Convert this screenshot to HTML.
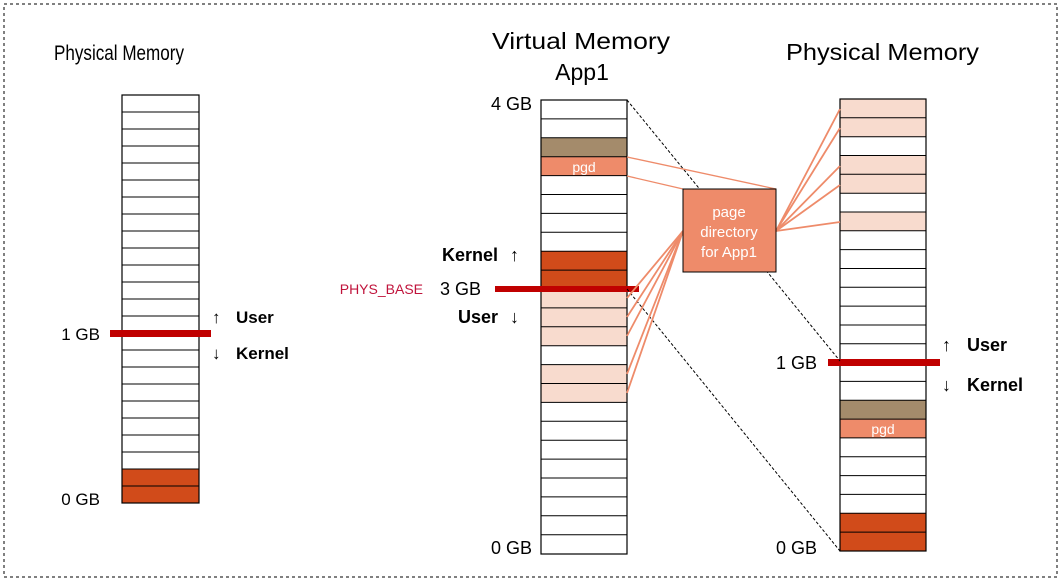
<!DOCTYPE html>
<html><head><meta charset="utf-8"><style>
html,body{margin:0;padding:0;background:#fff;}
svg{display:block;font-family:"Liberation Sans",sans-serif;}
</style></head><body>
<svg width="1063" height="581" viewBox="0 0 1063 581" xmlns="http://www.w3.org/2000/svg">
<rect x="4" y="4" width="1053" height="573" fill="none" stroke="#000" stroke-width="1" stroke-dasharray="3,3"/>

<text x="54" y="60" font-size="21" textLength="130" lengthAdjust="spacingAndGlyphs">Physical Memory</text>
<text x="492" y="49" font-size="23" textLength="178" lengthAdjust="spacingAndGlyphs">Virtual Memory</text>
<text x="582" y="80" font-size="23" text-anchor="middle">App1</text>
<text x="786" y="60" font-size="23" textLength="193" lengthAdjust="spacingAndGlyphs">Physical Memory</text>

<!-- left column -->
<rect x="122" y="95" width="77" height="408" fill="#fff"/>
<rect x="122" y="469" width="77" height="34" fill="#d14b1a"/>
<path stroke="#000" stroke-width="1" fill="none" d="M122 112H199M122 129H199M122 146H199M122 163H199M122 180H199M122 197H199M122 214H199M122 231H199M122 248H199M122 265H199M122 282H199M122 299H199M122 316H199M122 333H199M122 350H199M122 367H199M122 384H199M122 401H199M122 418H199M122 435H199M122 452H199M122 469H199M122 486H199"/>
<rect x="122" y="95" width="77" height="408" fill="none" stroke="#000" stroke-width="1.2"/>
<rect x="110" y="330" width="101" height="7" fill="#c00000"/>
<text x="100" y="340" font-size="17" text-anchor="end">1 GB</text>
<text x="100" y="505" font-size="17" text-anchor="end">0 GB</text>
<text x="212" y="323" font-size="17">↑</text>
<text x="236" y="323" font-size="17" font-weight="bold">User</text>
<text x="212" y="359" font-size="17">↓</text>
<text x="236" y="359" font-size="17" font-weight="bold">Kernel</text>

<!-- middle column -->
<rect x="541" y="100" width="86" height="454" fill="#fff"/>
<rect x="541" y="137.8" width="86" height="18.9" fill="#a48b6b"/>
<rect x="541" y="156.7" width="86" height="18.9" fill="#ee8b6a"/>
<rect x="541" y="251.2" width="86" height="37.8" fill="#d14b1a"/>
<rect x="541" y="289" width="86" height="56.7" fill="#f8dbce"/>
<rect x="541" y="364.6" width="86" height="37.8" fill="#f8dbce"/>
<path stroke="#000" stroke-width="1" fill="none" d="M541 118.9H627M541 137.8H627M541 156.7H627M541 175.6H627M541 194.5H627M541 213.4H627M541 232.3H627M541 251.2H627M541 270.1H627M541 289H627M541 307.9H627M541 326.8H627M541 345.7H627M541 364.6H627M541 383.5H627M541 402.4H627M541 421.3H627M541 440.2H627M541 459.1H627M541 478H627M541 496.9H627M541 515.8H627M541 534.7H627"/>
<rect x="541" y="100" width="86" height="454" fill="none" stroke="#000" stroke-width="1.2"/>
<text x="584" y="172" font-size="14" fill="#fff" text-anchor="middle">pgd</text>
<rect x="495" y="286" width="144" height="6" fill="#c00000"/>
<text x="532" y="110" font-size="18" text-anchor="end">4 GB</text>
<text x="532" y="554" font-size="18" text-anchor="end">0 GB</text>
<text x="481" y="295" font-size="18" text-anchor="end">3 GB</text>
<text x="423" y="294" font-size="14" fill="#c0143c" text-anchor="end">PHYS_BASE</text>
<text x="498" y="261" font-size="18" font-weight="bold" text-anchor="end">Kernel</text>
<text x="510" y="261" font-size="18">↑</text>
<text x="498" y="323" font-size="18" font-weight="bold" text-anchor="end">User</text>
<text x="510" y="323" font-size="18">↓</text>

<!-- right column -->
<rect x="840" y="99" width="86" height="452" fill="#fff"/>
<rect x="840" y="99" width="86" height="37.7" fill="#f8dbce"/>
<rect x="840" y="155.5" width="86" height="37.7" fill="#f8dbce"/>
<rect x="840" y="212" width="86" height="18.8" fill="#f8dbce"/>
<rect x="840" y="400.3" width="86" height="18.8" fill="#a48b6b"/>
<rect x="840" y="419.1" width="86" height="18.8" fill="#ee8b6a"/>
<rect x="840" y="513.3" width="86" height="37.7" fill="#d14b1a"/>
<path stroke="#000" stroke-width="1" fill="none" d="M840 117.8H926M840 136.7H926M840 155.5H926M840 174.3H926M840 193.2H926M840 212H926M840 230.8H926M840 249.6H926M840 268.5H926M840 287.3H926M840 306.1H926M840 325H926M840 343.8H926M840 362.6H926M840 381.4H926M840 400.3H926M840 419.1H926M840 437.9H926M840 456.8H926M840 475.6H926M840 494.4H926M840 513.3H926M840 532.1H926"/>
<rect x="840" y="99" width="86" height="452" fill="none" stroke="#000" stroke-width="1.2"/>
<text x="883" y="434" font-size="14" fill="#fff" text-anchor="middle">pgd</text>
<rect x="828" y="359" width="112" height="7" fill="#c00000"/>
<text x="817" y="369" font-size="18" text-anchor="end">1 GB</text>
<text x="817" y="554" font-size="18" text-anchor="end">0 GB</text>
<text x="942" y="351" font-size="18">↑</text>
<text x="967" y="351" font-size="18" font-weight="bold">User</text>
<text x="942" y="391" font-size="18">↓</text>
<text x="967" y="391" font-size="18" font-weight="bold">Kernel</text>

<!-- dashed lines -->
<line x1="627" y1="100" x2="840" y2="361" stroke="#000" stroke-width="1" stroke-dasharray="3,2"/>
<line x1="627" y1="289" x2="840" y2="551" stroke="#000" stroke-width="1" stroke-dasharray="3,2"/>

<!-- salmon connectors -->
<g stroke="#ee8b6a" stroke-width="1.8" fill="none">
<line x1="627" y1="157" x2="776" y2="189" stroke-width="1.3"/>
<line x1="627" y1="176" x2="683" y2="189" stroke-width="1.3"/>
<line x1="683" y1="231" x2="627" y2="298"/>
<line x1="683" y1="231" x2="627" y2="317"/>
<line x1="683" y1="231" x2="627" y2="336"/>
<line x1="683" y1="231" x2="627" y2="374"/>
<line x1="683" y1="231" x2="627" y2="393"/>
<line x1="776" y1="231" x2="840" y2="109"/>
<line x1="776" y1="231" x2="840" y2="128"/>
<line x1="776" y1="231" x2="840" y2="166"/>
<line x1="776" y1="231" x2="840" y2="185"/>
<line x1="776" y1="231" x2="840" y2="222"/>
</g>

<rect x="683" y="189" width="93" height="83" fill="#ee8b6a" stroke="#000" stroke-width="1"/>
<text x="729" y="217" font-size="15" fill="#fff" text-anchor="middle">page</text>
<text x="729" y="237" font-size="15" fill="#fff" text-anchor="middle">directory</text>
<text x="729" y="257" font-size="15" fill="#fff" text-anchor="middle">for App1</text>
</svg>
</body></html>
